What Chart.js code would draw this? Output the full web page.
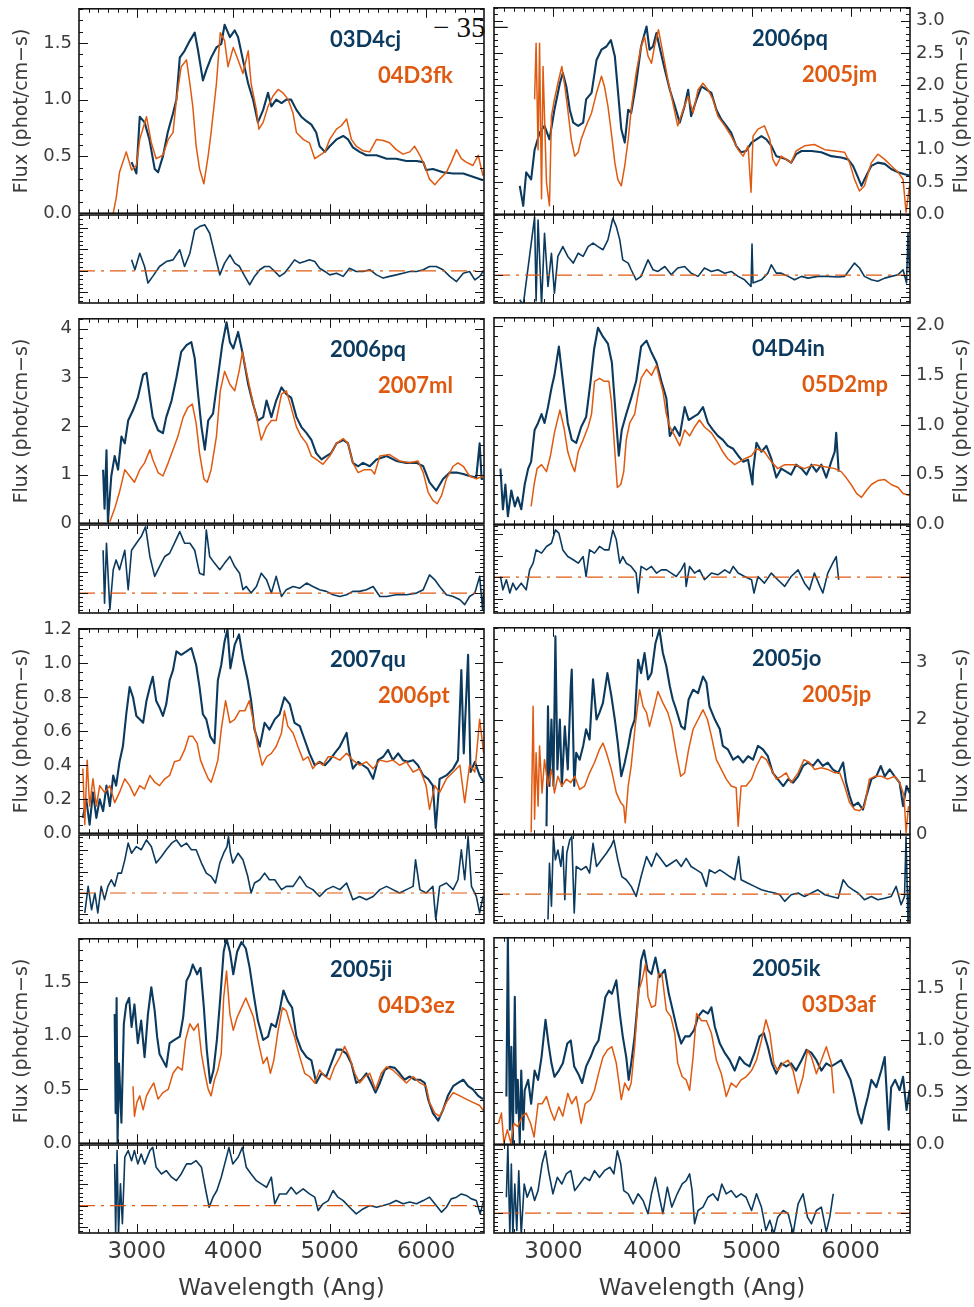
<!DOCTYPE html>
<html>
<head>
<meta charset="utf-8">
<title>Spectral comparisons</title>
<script src="https://cdn.jsdelivr.net/npm/chart.js@4/dist/chart.umd.min.js"></script>
<style>
  body { margin: 0; background: #fff; width: 974px; height: 1307px; position: relative; overflow: hidden; }
  canvas { position: absolute; }
  #page { position: absolute; left: 433px; top: 13px; font: 29px "Liberation Serif", serif; line-height: 29px; white-space: pre; color: #111; }
</style>
</head>
<body>
<div id="page">− 35 −</div>
<script>
// ---- spectra, [wavelength (Ang), flux] ----
// panel 1: 03D4cj vs 04D3fk
const p1Blue = [[2945,0.45],[2995,0.35],[3030,0.85],[3080,0.80],[3130,0.65],[3185,0.39],[3220,0.36],[3270,0.50],[3320,0.71],[3375,0.88],[3410,1.00],[3445,1.37],[3495,1.43],[3550,1.52],[3600,1.59],[3635,1.43],[3685,1.17],[3720,1.26],[3770,1.37],[3825,1.46],[3875,1.49],[3910,1.66],[3965,1.55],[4015,1.61],[4050,1.55],[4100,1.35],[4155,1.14],[4205,1.00],[4255,0.80],[4310,0.91],[4360,1.06],[4395,0.94],[4445,1.00],[4500,0.97],[4550,1.00],[4600,1.00],[4655,0.91],[4705,0.85],[4760,0.81],[4810,0.78],[4860,0.71],[4895,0.59],[4950,0.54],[5000,0.59],[5070,0.65],[5140,0.68],[5190,0.65],[5240,0.58],[5310,0.54],[5380,0.51],[5485,0.51],[5590,0.48],[5690,0.48],[5795,0.46],[5900,0.46],[5970,0.45],[6000,0.38],[6070,0.39],[6175,0.36],[6280,0.35],[6385,0.35],[6485,0.32],[6590,0.29]];
const p1Orange = [[2755,0.0],[2785,0.13],[2820,0.36],[2890,0.54],[2945,0.38],[2995,0.42],[3030,0.65],[3100,0.85],[3150,0.62],[3200,0.48],[3270,0.51],[3325,0.65],[3375,0.71],[3410,1.00],[3460,1.29],[3515,1.35],[3550,1.14],[3580,0.94],[3615,0.59],[3650,0.39],[3695,0.26],[3740,0.51],[3770,0.71],[3825,1.14],[3865,1.59],[3910,1.52],[3945,1.29],[4000,1.46],[4050,1.35],[4100,1.23],[4155,1.43],[4185,1.14],[4240,0.91],[4265,0.74],[4310,0.80],[4360,0.94],[4410,1.03],[4465,1.09],[4515,1.06],[4570,1.00],[4620,0.88],[4655,0.71],[4725,0.65],[4790,0.62],[4845,0.48],[4895,0.51],[4950,0.54],[5000,0.65],[5070,0.74],[5120,0.77],[5175,0.83],[5225,0.65],[5275,0.59],[5345,0.55],[5415,0.54],[5485,0.65],[5555,0.64],[5620,0.62],[5690,0.56],[5760,0.52],[5830,0.54],[5880,0.59],[5935,0.51],[5985,0.42],[6035,0.30],[6090,0.25],[6140,0.30],[6210,0.36],[6260,0.45],[6315,0.56],[6365,0.48],[6415,0.45],[6485,0.42],[6540,0.51],[6590,0.33]];
const p1Resid = [[2945,0.51],[2980,0.05],[3030,0.82],[3080,0.20],[3115,-0.57],[3165,-0.26],[3235,0.20],[3305,0.43],[3375,0.51],[3445,0.98],[3495,0.20],[3550,0.82],[3600,1.90],[3650,2.06],[3705,2.14],[3755,1.75],[3805,0.82],[3860,-0.19],[3910,0.36],[3965,0.74],[4015,0.36],[4065,0.20],[4120,-0.26],[4170,-0.65],[4220,-0.26],[4275,0.05],[4325,0.20],[4375,0.20],[4430,-0.03],[4480,-0.26],[4530,-0.11],[4585,0.20],[4635,0.51],[4690,0.36],[4740,0.43],[4790,0.51],[4845,0.43],[4895,0.12],[4950,-0.03],[5000,-0.19],[5070,-0.11],[5140,-0.26],[5205,0.12],[5275,-0.03],[5345,-0.03],[5415,0.05],[5485,-0.19],[5555,-0.34],[5620,-0.26],[5690,-0.19],[5760,-0.11],[5830,-0.03],[5900,-0.03],[5970,0.05],[6035,0.20],[6105,0.20],[6175,0.05],[6245,-0.26],[6315,-0.50],[6385,-0.11],[6450,-0.03],[6505,-0.42],[6555,-0.26],[6590,-0.03]];

// panel 2: 2006pq vs 2005jm
const p2Blue = [[2660,0.44],[2695,0.13],[2725,0.65],[2775,0.54],[2810,1.00],[2860,1.26],[2910,1.37],[2960,1.16],[3010,1.62],[3065,2.03],[3095,2.19],[3130,1.98],[3165,1.62],[3200,1.42],[3250,1.37],[3300,1.42],[3330,1.78],[3385,1.88],[3435,2.39],[3485,2.55],[3535,2.60],[3580,2.70],[3620,2.45],[3650,1.93],[3685,1.32],[3720,1.11],[3755,1.62],[3785,1.57],[3835,2.03],[3885,2.60],[3940,2.91],[3970,2.55],[4005,2.60],[4040,2.81],[4070,2.60],[4125,2.24],[4175,1.93],[4225,1.68],[4275,1.42],[4325,1.68],[4360,1.93],[4390,1.52],[4445,1.78],[4495,1.98],[4545,1.93],[4595,1.88],[4645,1.62],[4695,1.47],[4745,1.37],[4795,1.26],[4845,1.06],[4895,0.96],[4945,0.98],[5000,1.11],[5050,1.16],[5100,1.21],[5150,1.16],[5200,1.06],[5250,0.90],[5300,0.88],[5350,0.85],[5400,0.80],[5450,0.93],[5505,0.98],[5605,0.98],[5705,0.96],[5805,0.90],[5905,0.88],[5975,0.85],[6025,0.75],[6075,0.57],[6110,0.44],[6140,0.54],[6210,0.75],[6275,0.80],[6345,0.78],[6410,0.70],[6480,0.65],[6545,0.62],[6595,0.60]];
const p2Orange = [[2810,1.78],[2825,2.65],[2845,1.00],[2860,2.65],[2880,0.24],[2895,2.29],[2930,0.49],[2960,0.13],[2980,1.52],[3010,1.78],[3045,2.03],[3085,2.29],[3115,1.98],[3145,1.62],[3180,1.16],[3215,0.90],[3250,0.96],[3280,1.16],[3330,1.37],[3385,1.57],[3435,1.88],[3485,2.14],[3515,1.98],[3550,1.68],[3585,1.26],[3620,0.80],[3650,0.54],[3685,0.44],[3720,0.75],[3755,1.16],[3785,1.62],[3835,2.19],[3885,2.60],[3920,2.75],[3955,2.45],[3990,2.34],[4020,2.60],[4060,2.86],[4105,2.50],[4155,2.09],[4205,1.73],[4255,1.37],[4310,1.62],[4360,1.83],[4410,1.57],[4460,1.93],[4510,2.03],[4560,1.93],[4610,1.78],[4660,1.52],[4730,1.37],[4795,1.21],[4865,1.00],[4915,0.90],[4965,1.06],[4995,0.34],[5015,1.21],[5065,1.32],[5130,1.37],[5185,1.16],[5215,0.85],[5250,0.75],[5300,0.90],[5350,0.85],[5400,0.80],[5450,0.98],[5535,1.06],[5635,1.08],[5740,1.00],[5840,0.98],[5940,0.96],[5990,0.80],[6040,0.54],[6090,0.36],[6140,0.44],[6210,0.80],[6275,0.93],[6345,0.85],[6410,0.75],[6480,0.65],[6530,0.54],[6560,0.03],[6595,0.44]];
const p2Resid = [[2660,-1.15],[2695,-1.40],[2810,2.70],[2825,-1.20],[2845,2.57],[2880,-1.40],[2910,1.95],[2945,-0.53],[2980,1.02],[3010,-0.84],[3045,0.87],[3095,1.33],[3145,0.87],[3200,0.56],[3250,1.02],[3300,0.87],[3350,1.33],[3400,1.49],[3450,1.33],[3500,1.18],[3550,1.64],[3600,2.65],[3635,2.26],[3670,1.64],[3700,0.71],[3755,0.56],[3785,0.25],[3835,-0.22],[3885,-0.06],[3955,0.71],[4005,0.25],[4055,0.17],[4125,0.40],[4190,0.02],[4255,0.33],[4325,0.40],[4390,0.09],[4460,-0.06],[4525,0.33],[4595,0.17],[4660,0.25],[4730,0.09],[4795,0.17],[4865,-0.06],[4930,-0.22],[4995,-0.53],[5005,1.45],[5015,-0.37],[5100,-0.22],[5165,0.09],[5200,0.48],[5250,0.09],[5300,0.09],[5370,-0.06],[5435,-0.22],[5505,-0.06],[5570,-0.14],[5670,-0.06],[5770,-0.06],[5875,-0.09],[5940,-0.06],[5990,0.25],[6040,0.56],[6090,0.33],[6140,-0.06],[6210,-0.22],[6275,-0.29],[6345,-0.14],[6410,-0.06],[6480,0.02],[6530,0.25],[6565,-0.37],[6580,1.95],[6595,0.09]];

// panel 3: 2006pq vs 2007ml
const p3Blue = [[2650,1.10],[2665,0.30],[2685,1.50],[2700,0.03],[2735,0.97],[2770,1.38],[2805,1.10],[2840,1.78],[2875,1.64],[2910,2.11],[2960,2.32],[3010,2.58],[3065,3.05],[3100,3.09],[3135,2.58],[3165,2.18],[3220,1.91],[3270,1.85],[3305,2.18],[3360,2.52],[3410,2.99],[3460,3.52],[3515,3.66],[3565,3.72],[3600,3.39],[3635,2.65],[3670,1.98],[3705,1.51],[3740,2.11],[3790,2.25],[3840,2.99],[3885,3.66],[3930,4.13],[3965,3.72],[4000,3.59],[4050,3.93],[4100,3.46],[4155,2.85],[4205,2.45],[4255,2.11],[4310,2.18],[4345,2.52],[4395,2.18],[4445,2.52],[4500,2.79],[4550,2.65],[4600,2.58],[4655,2.18],[4705,1.98],[4760,1.85],[4810,1.71],[4860,1.44],[4915,1.31],[4965,1.38],[5015,1.44],[5070,1.64],[5140,1.71],[5190,1.64],[5240,1.24],[5295,1.17],[5345,1.24],[5415,1.17],[5485,1.31],[5590,1.38],[5690,1.28],[5795,1.24],[5900,1.24],[5970,1.17],[6035,0.84],[6105,0.67],[6175,0.91],[6245,1.04],[6315,1.04],[6385,1.01],[6450,0.97],[6520,0.94],[6555,1.64],[6575,0.91],[6590,0.91]];
const p3Orange = [[2720,0.03],[2770,0.30],[2820,0.64],[2875,1.10],[2925,0.97],[2975,0.84],[3030,1.10],[3080,1.24],[3135,1.51],[3165,1.31],[3220,1.04],[3270,0.97],[3325,1.24],[3375,1.51],[3425,1.78],[3480,2.18],[3530,2.38],[3575,2.45],[3615,2.05],[3650,1.44],[3695,0.91],[3730,0.84],[3770,1.10],[3825,1.78],[3865,2.72],[3910,3.12],[3965,2.85],[4015,2.72],[4060,3.12],[4095,3.52],[4135,3.12],[4185,2.65],[4240,2.18],[4290,1.71],[4345,1.98],[4395,2.11],[4445,2.11],[4500,2.65],[4550,2.72],[4600,2.38],[4655,1.98],[4705,1.78],[4760,1.64],[4810,1.38],[4860,1.31],[4930,1.21],[5000,1.38],[5070,1.64],[5140,1.74],[5190,1.64],[5240,1.24],[5295,1.04],[5360,1.10],[5430,1.10],[5465,1.01],[5520,1.38],[5620,1.41],[5725,1.28],[5830,1.24],[5915,1.28],[5970,1.04],[6020,0.64],[6070,0.47],[6115,0.40],[6160,0.57],[6210,0.91],[6280,1.17],[6330,1.24],[6385,1.17],[6450,0.97],[6520,0.91],[6590,0.97]];
const p3Resid = [[2650,2.00],[2665,-0.47],[2685,2.33],[2720,-0.78],[2755,1.09],[2785,1.55],[2820,1.09],[2875,2.00],[2910,0.16],[2945,2.00],[2995,2.33],[3045,2.64],[3090,3.10],[3135,1.71],[3185,0.78],[3235,1.24],[3290,1.71],[3340,1.86],[3390,2.33],[3445,2.87],[3495,2.33],[3550,2.33],[3600,2.00],[3650,0.93],[3695,0.85],[3720,2.95],[3755,1.71],[3805,1.40],[3860,1.09],[3910,1.40],[3965,1.71],[4015,1.24],[4065,0.93],[4100,0.16],[4135,0.31],[4185,0.00],[4240,0.31],[4290,0.93],[4345,0.62],[4395,0.00],[4445,0.78],[4500,-0.16],[4550,0.16],[4620,0.31],[4690,0.23],[4760,0.47],[4825,0.31],[4895,0.16],[4965,0.08],[5035,-0.08],[5105,-0.16],[5175,-0.08],[5240,0.08],[5310,0.08],[5380,0.16],[5450,0.31],[5520,-0.16],[5590,-0.16],[5690,-0.08],[5795,-0.08],[5900,0.00],[5970,0.16],[6035,0.85],[6090,0.62],[6140,0.31],[6210,-0.08],[6280,-0.16],[6350,-0.31],[6400,-0.54],[6450,-0.16],[6505,0.00],[6555,0.78],[6585,-0.78],[6597,0.16]];

// panel 4: 04D4in vs 05D2mp
const p4Blue = [[2465,0.56],[2490,0.15],[2515,0.40],[2540,0.08],[2575,0.34],[2610,0.18],[2640,0.27],[2675,0.15],[2710,0.40],[2745,0.56],[2775,0.63],[2810,0.95],[2845,1.02],[2880,1.11],[2910,1.02],[2945,1.18],[2980,1.37],[3010,1.50],[3055,1.79],[3085,1.53],[3115,1.27],[3145,1.02],[3185,0.85],[3230,0.82],[3280,0.98],[3330,1.08],[3375,1.44],[3410,1.76],[3450,1.98],[3500,1.89],[3550,1.82],[3590,1.63],[3625,1.15],[3660,0.69],[3690,0.95],[3735,1.11],[3785,1.27],[3835,1.44],[3885,1.79],[3940,1.85],[3990,1.73],[4040,1.63],[4090,1.44],[4140,1.27],[4175,0.89],[4225,0.98],[4275,0.89],[4325,1.18],[4365,1.05],[4410,1.08],[4460,1.11],[4510,1.18],[4560,1.02],[4610,0.95],[4660,0.89],[4710,0.85],[4760,0.79],[4815,0.76],[4865,0.69],[4915,0.63],[4965,0.65],[5010,0.40],[5015,0.53],[5050,0.82],[5100,0.73],[5150,0.79],[5200,0.66],[5250,0.47],[5300,0.56],[5350,0.53],[5400,0.50],[5450,0.60],[5505,0.56],[5555,0.50],[5605,0.60],[5655,0.53],[5705,0.60],[5755,0.47],[5805,0.63],[5840,0.73],[5855,0.92],[5880,0.53]];
const p4Orange = [[2775,0.18],[2805,0.40],[2835,0.56],[2880,0.60],[2930,0.53],[2970,0.69],[3010,0.92],[3065,1.15],[3105,0.98],[3145,0.73],[3185,0.60],[3215,0.53],[3250,0.73],[3300,0.85],[3350,0.98],[3385,1.11],[3415,1.44],[3465,1.47],[3515,1.44],[3560,1.44],[3585,1.24],[3620,0.73],[3645,0.37],[3680,0.40],[3710,0.53],[3735,0.85],[3770,1.02],[3820,1.11],[3855,1.31],[3885,1.47],[3940,1.56],[3990,1.50],[4040,1.60],[4070,1.47],[4105,1.34],[4140,1.11],[4175,0.98],[4225,0.89],[4275,0.79],[4325,0.95],[4375,0.89],[4425,0.98],[4475,1.05],[4525,0.98],[4595,0.92],[4660,0.82],[4710,0.73],[4760,0.66],[4830,0.60],[4880,0.63],[4930,0.66],[5000,0.69],[5050,0.76],[5130,0.73],[5200,0.63],[5265,0.56],[5335,0.60],[5435,0.60],[5535,0.56],[5635,0.60],[5740,0.58],[5840,0.56],[5905,0.53],[5955,0.47],[6005,0.40],[6060,0.31],[6110,0.27],[6160,0.34],[6210,0.40],[6275,0.44],[6345,0.45],[6410,0.40],[6480,0.37],[6530,0.31],[6595,0.29]];
const p4Resid = [[2465,0.03],[2490,-0.59],[2525,-0.12],[2560,-0.74],[2590,-0.28],[2625,-0.59],[2675,-0.28],[2725,-0.59],[2760,0.34],[2795,0.65],[2825,1.27],[2880,1.12],[2930,1.43],[2980,1.58],[3020,2.20],[3055,2.05],[3095,1.27],[3145,0.96],[3200,0.81],[3250,0.65],[3300,0.96],[3330,0.03],[3365,1.27],[3415,1.12],[3465,1.43],[3515,1.27],[3560,1.27],[3600,2.20],[3635,1.74],[3670,0.65],[3700,0.96],[3735,0.65],[3785,0.50],[3835,0.19],[3855,-0.74],[3885,0.50],[3940,0.34],[3990,0.50],[4040,0.19],[4090,0.34],[4140,0.34],[4190,0.19],[4240,0.03],[4290,0.34],[4325,0.65],[4340,-0.43],[4375,0.50],[4425,0.19],[4475,0.34],[4525,-0.12],[4595,0.19],[4660,0.11],[4730,0.34],[4780,0.19],[4815,0.50],[4865,0.19],[4930,0.03],[5000,-0.12],[5025,-0.74],[5065,0.03],[5130,-0.28],[5200,0.19],[5265,-0.12],[5335,-0.43],[5400,0.03],[5470,0.34],[5535,-0.28],[5585,-0.59],[5635,0.19],[5690,-0.43],[5720,-0.74],[5770,0.19],[5820,0.65],[5855,0.96],[5880,-0.12]];

// panel 5: 2007qu vs 2006pt
const p5Blue = [[2440,0.09],[2475,0.20],[2510,0.05],[2545,0.24],[2580,0.09],[2615,0.20],[2650,0.13],[2685,0.28],[2720,0.16],[2755,0.34],[2785,0.28],[2820,0.42],[2855,0.51],[2890,0.70],[2925,0.86],[2960,0.80],[2995,0.69],[3030,0.67],[3065,0.65],[3100,0.78],[3135,0.86],[3165,0.92],[3200,0.78],[3235,0.74],[3270,0.69],[3305,0.76],[3340,0.90],[3375,0.96],[3410,1.07],[3460,1.05],[3515,1.07],[3565,1.09],[3615,0.99],[3650,0.86],[3685,0.70],[3720,0.67],[3760,0.57],[3805,0.53],[3840,0.90],[3875,0.99],[3910,1.13],[3940,1.20],[3970,0.97],[4015,1.11],[4060,1.17],[4100,1.03],[4150,0.90],[4185,0.78],[4220,0.61],[4275,0.51],[4325,0.65],[4375,0.61],[4430,0.67],[4480,0.70],[4530,0.80],[4585,0.76],[4635,0.65],[4690,0.63],[4740,0.55],[4790,0.47],[4845,0.40],[4895,0.42],[4950,0.40],[5000,0.43],[5050,0.47],[5105,0.51],[5175,0.59],[5205,0.47],[5240,0.38],[5295,0.42],[5345,0.40],[5395,0.38],[5450,0.32],[5500,0.43],[5555,0.45],[5605,0.49],[5655,0.43],[5710,0.47],[5760,0.43],[5810,0.42],[5865,0.43],[5915,0.40],[5970,0.34],[6020,0.32],[6070,0.28],[6100,0.03],[6140,0.32],[6210,0.34],[6280,0.38],[6330,0.43],[6365,0.96],[6390,0.47],[6435,1.05],[6460,0.36],[6505,0.42],[6555,0.34],[6597,0.30]];
const p5Orange = [[2440,0.38],[2460,0.05],[2485,0.43],[2510,0.16],[2545,0.32],[2580,0.16],[2615,0.28],[2665,0.24],[2720,0.28],[2770,0.18],[2820,0.24],[2875,0.32],[2925,0.28],[2975,0.22],[3030,0.28],[3080,0.26],[3135,0.34],[3185,0.30],[3235,0.28],[3290,0.32],[3340,0.34],[3390,0.42],[3445,0.43],[3495,0.49],[3540,0.57],[3580,0.57],[3625,0.53],[3660,0.43],[3695,0.38],[3740,0.32],[3770,0.30],[3805,0.36],[3840,0.43],[3875,0.61],[3920,0.78],[3965,0.65],[4015,0.67],[4065,0.72],[4120,0.72],[4165,0.78],[4205,0.67],[4255,0.51],[4300,0.40],[4345,0.45],[4395,0.47],[4445,0.51],[4500,0.59],[4530,0.72],[4565,0.63],[4620,0.59],[4670,0.51],[4725,0.43],[4775,0.45],[4825,0.38],[4880,0.42],[4930,0.40],[4985,0.45],[5035,0.45],[5105,0.43],[5175,0.47],[5240,0.43],[5310,0.40],[5380,0.42],[5450,0.38],[5520,0.43],[5590,0.42],[5655,0.43],[5725,0.40],[5795,0.42],[5865,0.36],[5935,0.38],[6000,0.28],[6035,0.14],[6090,0.28],[6140,0.24],[6210,0.32],[6280,0.36],[6350,0.40],[6400,0.18],[6450,0.40],[6505,0.36],[6555,0.67],[6597,0.47]];
const p5Resid = [[2460,-0.93],[2495,0.31],[2530,-0.78],[2565,0.00],[2595,-0.93],[2630,0.31],[2665,-0.31],[2700,0.31],[2735,0.62],[2770,0.31],[2805,0.93],[2840,0.93],[2875,1.55],[2910,2.33],[2945,1.86],[2995,2.17],[3045,2.02],[3100,2.48],[3150,2.17],[3200,1.40],[3255,1.71],[3305,2.02],[3360,2.33],[3410,2.48],[3460,2.17],[3515,2.33],[3565,2.02],[3615,2.02],[3670,1.40],[3720,0.93],[3770,0.78],[3815,0.47],[3860,1.40],[3900,1.86],[3935,2.17],[3950,2.64],[3970,1.90],[3995,1.40],[4050,1.86],[4100,1.55],[4150,0.78],[4185,0.00],[4220,0.47],[4275,0.62],[4325,0.93],[4375,0.62],[4430,0.62],[4500,0.16],[4550,0.31],[4620,0.31],[4690,0.78],[4760,0.31],[4825,0.16],[4895,-0.16],[4965,0.16],[5035,0.31],[5105,0.16],[5175,0.47],[5240,-0.31],[5310,-0.16],[5380,-0.31],[5450,-0.16],[5520,0.16],[5590,0.31],[5655,0.16],[5725,0.00],[5795,0.16],[5865,0.31],[5890,1.55],[5935,0.16],[6000,0.00],[6070,0.31],[6100,-1.24],[6140,0.31],[6210,0.47],[6280,0.16],[6330,0.62],[6365,2.02],[6400,0.62],[6435,2.64],[6470,0.31],[6520,-0.16],[6555,-0.93],[6590,-0.16]];

// panel 6: 2005jo vs 2005jp
const p6Blue = [[2930,0.14],[2945,2.23],[2960,0.84],[2980,2.00],[3000,0.84],[3020,3.45],[3040,1.13],[3065,2.00],[3085,0.84],[3115,1.88],[3145,1.13],[3175,2.58],[3185,2.87],[3210,0.84],[3230,1.42],[3265,1.30],[3300,1.54],[3330,1.83],[3365,1.65],[3400,2.70],[3435,2.00],[3465,2.12],[3500,2.29],[3545,2.81],[3585,2.41],[3620,2.00],[3650,1.59],[3685,1.01],[3720,1.25],[3755,1.54],[3785,1.83],[3820,2.00],[3855,3.04],[3885,2.81],[3920,3.16],[3955,2.70],[3990,2.81],[4030,3.33],[4070,3.57],[4105,3.16],[4140,2.93],[4175,2.58],[4205,2.35],[4240,2.17],[4290,1.88],[4325,1.83],[4365,2.35],[4410,2.52],[4460,2.46],[4510,2.75],[4545,2.64],[4575,2.23],[4630,2.00],[4680,1.83],[4710,1.54],[4760,1.48],[4815,1.30],[4865,1.36],[4915,1.25],[4965,1.36],[5015,1.30],[5065,1.54],[5115,1.48],[5165,1.36],[5215,1.07],[5265,0.96],[5320,0.84],[5370,0.96],[5420,0.90],[5470,1.01],[5520,1.19],[5570,1.25],[5620,1.19],[5670,1.30],[5720,1.19],[5770,1.25],[5820,1.13],[5875,1.07],[5925,1.25],[5955,0.90],[5990,0.67],[6025,0.49],[6075,0.55],[6125,0.43],[6160,0.67],[6210,0.96],[6260,1.01],[6305,1.19],[6345,1.01],[6395,1.13],[6445,1.01],[6495,0.90],[6530,0.49],[6565,0.84],[6595,0.72]];
const p6Orange = [[2775,0.03],[2795,2.23],[2810,0.26],[2825,1.42],[2845,0.49],[2860,1.54],[2885,0.72],[2910,1.30],[2945,0.84],[2980,1.13],[3010,0.72],[3045,1.01],[3085,0.84],[3130,0.96],[3175,0.90],[3215,1.01],[3265,0.78],[3315,0.84],[3365,1.07],[3415,1.25],[3465,1.48],[3500,1.59],[3535,1.42],[3585,1.13],[3635,0.72],[3680,0.55],[3710,0.49],[3725,0.20],[3755,0.84],[3785,1.19],[3825,1.88],[3870,2.52],[3905,2.23],[3940,2.12],[3970,1.88],[4005,2.12],[4055,2.49],[4105,2.29],[4155,2.12],[4195,1.88],[4240,1.42],[4285,1.01],[4325,1.07],[4365,1.48],[4410,1.83],[4460,2.00],[4510,2.17],[4555,2.00],[4595,1.71],[4645,1.30],[4695,1.13],[4745,0.96],[4795,0.84],[4845,0.81],[4865,0.14],[4895,0.84],[4945,0.84],[5000,0.96],[5050,1.19],[5100,1.36],[5150,1.30],[5200,1.13],[5250,0.96],[5300,1.01],[5350,1.07],[5400,0.90],[5470,1.07],[5530,1.30],[5585,1.25],[5635,1.13],[5705,1.16],[5770,1.13],[5840,1.07],[5890,1.07],[5940,0.84],[5990,0.55],[6040,0.43],[6090,0.41],[6140,0.49],[6190,0.96],[6245,1.01],[6310,1.01],[6375,0.96],[6445,1.01],[6495,0.90],[6540,0.67],[6560,0.03],[6585,0.49]];
const p6Resid = [[2945,-1.19],[2960,1.44],[2980,-0.57],[3000,2.68],[3020,1.60],[3045,2.06],[3075,1.29],[3095,2.22],[3115,-0.26],[3135,1.91],[3165,2.53],[3185,2.68],[3210,-0.88],[3230,1.29],[3280,1.13],[3330,1.29],[3365,0.98],[3400,2.37],[3435,1.29],[3485,1.60],[3535,1.91],[3580,2.22],[3610,2.53],[3650,1.60],[3690,0.82],[3735,0.67],[3785,0.36],[3835,-0.11],[3885,0.82],[3940,1.75],[3990,1.29],[4040,1.91],[4090,1.60],[4140,1.29],[4190,1.44],[4240,1.60],[4290,1.29],[4340,1.67],[4390,1.29],[4445,1.13],[4495,0.98],[4545,0.36],[4575,1.13],[4630,0.98],[4680,1.13],[4730,0.98],[4780,0.82],[4830,0.67],[4870,1.75],[4895,0.67],[4965,0.51],[5030,0.36],[5100,0.20],[5165,0.12],[5235,0.05],[5285,-0.03],[5335,-0.34],[5400,-0.03],[5470,0.05],[5535,-0.11],[5605,0.05],[5670,0.20],[5740,-0.03],[5805,-0.11],[5875,-0.19],[5925,0.67],[5975,0.36],[6025,0.20],[6075,0.05],[6140,-0.26],[6210,-0.11],[6275,-0.26],[6345,-0.19],[6410,-0.11],[6460,0.36],[6510,-0.50],[6545,-0.11],[6560,2.68],[6580,-1.35],[6595,0.36]];

// panel 7: 2005ji vs 04D3ez
const p7Blue = [[2770,1.20],[2780,0.28],[2790,1.35],[2800,0.01],[2815,0.74],[2840,0.19],[2865,1.11],[2890,1.29],[2920,1.35],[2945,1.08],[2975,1.29],[3010,0.93],[3045,1.14],[3080,0.80],[3115,1.20],[3150,1.45],[3185,1.23],[3210,0.99],[3235,0.83],[3270,0.77],[3305,0.71],[3340,0.93],[3390,0.96],[3445,0.99],[3480,1.17],[3515,1.51],[3550,1.57],[3580,1.66],[3625,1.57],[3660,1.63],[3695,1.26],[3725,0.87],[3760,0.56],[3795,0.68],[3830,0.96],[3865,1.35],[3900,1.78],[3930,1.90],[3965,1.78],[4000,1.57],[4040,1.78],[4085,1.87],[4130,1.81],[4170,1.63],[4210,1.39],[4255,1.14],[4310,0.96],[4360,0.99],[4395,1.11],[4440,1.08],[4480,1.23],[4520,1.42],[4565,1.32],[4610,1.26],[4655,0.99],[4705,0.87],[4760,0.80],[4810,0.77],[4860,0.56],[4915,0.65],[4965,0.62],[5015,0.74],[5070,0.87],[5120,0.87],[5175,0.83],[5225,0.74],[5275,0.56],[5330,0.59],[5380,0.65],[5430,0.56],[5475,0.47],[5520,0.56],[5570,0.68],[5620,0.71],[5675,0.70],[5725,0.65],[5775,0.59],[5830,0.62],[5880,0.59],[5935,0.59],[5985,0.56],[6020,0.41],[6070,0.28],[6125,0.21],[6175,0.31],[6225,0.44],[6280,0.53],[6330,0.56],[6385,0.59],[6435,0.53],[6485,0.50],[6540,0.44],[6590,0.41]];
const p7Orange = [[2960,0.53],[2975,0.25],[3000,0.38],[3030,0.44],[3065,0.31],[3100,0.44],[3135,0.50],[3175,0.56],[3220,0.41],[3270,0.47],[3325,0.50],[3375,0.65],[3425,0.71],[3470,0.68],[3505,0.96],[3550,1.11],[3590,1.05],[3635,1.11],[3670,0.83],[3705,0.65],[3740,0.50],[3770,0.44],[3805,0.59],[3840,0.68],[3875,0.83],[3900,1.35],[3930,1.60],[3965,1.20],[4000,1.05],[4040,1.17],[4085,1.26],[4130,1.35],[4170,1.26],[4210,1.17],[4255,0.96],[4310,0.74],[4350,0.80],[4385,0.65],[4420,0.77],[4465,1.05],[4510,1.26],[4550,1.23],[4590,1.11],[4635,0.99],[4690,0.80],[4740,0.65],[4790,0.62],[4845,0.56],[4895,0.68],[4950,0.62],[5000,0.59],[5050,0.71],[5105,0.80],[5155,0.90],[5205,0.80],[5260,0.65],[5310,0.56],[5365,0.62],[5415,0.65],[5475,0.50],[5535,0.65],[5590,0.71],[5655,0.68],[5725,0.62],[5795,0.56],[5865,0.62],[5935,0.56],[6000,0.53],[6035,0.38],[6090,0.28],[6140,0.25],[6210,0.38],[6280,0.47],[6350,0.44],[6415,0.41],[6485,0.38],[6555,0.35],[6597,0.30]];
const p7Resid = [[2770,1.94],[2780,-1.32],[2795,2.56],[2810,-1.32],[2830,1.01],[2850,-0.85],[2875,2.25],[2910,2.56],[2945,2.09],[2975,2.56],[3010,1.94],[3045,2.40],[3080,1.94],[3135,2.56],[3165,2.71],[3200,1.78],[3255,1.47],[3305,1.63],[3360,1.32],[3410,1.16],[3460,1.47],[3515,1.94],[3565,1.94],[3615,2.09],[3670,1.78],[3715,0.70],[3750,-0.08],[3790,0.39],[3830,0.70],[3875,1.32],[3920,2.09],[3955,2.71],[3995,1.94],[4050,2.25],[4095,2.71],[4135,1.78],[4185,1.47],[4240,1.16],[4290,1.01],[4345,0.85],[4395,1.32],[4430,0.08],[4480,0.54],[4550,0.54],[4600,0.85],[4655,0.54],[4725,0.78],[4790,0.54],[4845,0.39],[4880,-0.23],[4930,0.08],[4985,0.23],[5035,0.70],[5085,0.39],[5140,0.23],[5205,-0.08],[5275,-0.39],[5345,-0.16],[5415,0.00],[5485,-0.08],[5555,0.00],[5620,0.08],[5690,0.23],[5760,0.08],[5830,0.16],[5900,0.08],[5970,0.23],[6035,0.39],[6105,0.00],[6160,-0.31],[6210,-0.08],[6260,0.31],[6315,0.39],[6365,0.54],[6415,0.47],[6470,0.31],[6520,0.23],[6560,-0.39],[6597,0.23]];

// panel 8: 2005ik vs 03D3af
const p8Blue = [[2525,0.46],[2540,2.00],[2560,0.14],[2575,0.94],[2590,0.01],[2610,1.42],[2625,0.30],[2640,0.62],[2660,0.01],[2675,0.71],[2695,0.14],[2710,0.52],[2745,0.62],[2775,0.39],[2810,0.71],[2845,0.62],[2880,0.84],[2920,1.20],[2950,0.97],[2980,0.78],[3010,0.65],[3055,0.71],[3095,0.78],[3140,0.97],[3175,1.00],[3210,0.75],[3250,0.68],[3290,0.59],[3330,0.75],[3375,0.84],[3415,0.94],[3455,1.00],[3490,1.20],[3525,1.42],[3560,1.48],[3590,1.45],[3635,1.58],[3670,1.26],[3700,1.04],[3735,0.84],[3760,0.62],[3785,0.78],[3820,1.04],[3855,1.42],[3885,1.77],[3915,1.87],[3950,1.68],[3990,1.64],[4030,1.80],[4070,1.61],[4125,1.68],[4165,1.45],[4205,1.29],[4250,1.10],[4290,0.97],[4330,1.04],[4375,1.04],[4420,1.10],[4460,1.23],[4510,1.29],[4560,1.26],[4595,1.32],[4630,1.13],[4680,0.97],[4730,0.88],[4780,0.81],[4830,0.71],[4880,0.84],[4930,0.78],[4980,0.75],[5030,0.88],[5080,1.04],[5125,1.07],[5165,0.94],[5205,0.78],[5250,0.68],[5300,0.78],[5350,0.75],[5400,0.78],[5450,0.71],[5505,0.81],[5555,0.91],[5605,0.88],[5655,0.81],[5705,0.71],[5755,0.78],[5805,0.75],[5855,0.78],[5905,0.81],[5955,0.71],[6000,0.62],[6040,0.46],[6075,0.30],[6110,0.20],[6140,0.33],[6175,0.46],[6210,0.62],[6260,0.55],[6310,0.71],[6345,0.84],[6385,0.14],[6410,0.55],[6450,0.62],[6495,0.52],[6530,0.65],[6565,0.33],[6595,0.52]];
const p8Orange = [[2445,0.20],[2475,0.30],[2500,0.01],[2535,0.14],[2570,0.01],[2600,0.20],[2640,0.17],[2685,0.27],[2725,0.30],[2770,0.20],[2805,0.07],[2845,0.39],[2885,0.39],[2930,0.46],[2970,0.33],[3010,0.23],[3055,0.36],[3095,0.27],[3145,0.49],[3185,0.39],[3230,0.46],[3280,0.20],[3320,0.39],[3375,0.43],[3415,0.52],[3455,0.68],[3500,0.84],[3545,0.91],[3590,0.94],[3635,0.78],[3685,0.43],[3720,0.59],[3760,0.52],[3785,0.59],[3820,0.94],[3860,1.48],[3895,1.58],[3930,1.74],[3955,1.42],[3990,1.32],[4030,1.34],[4060,1.64],[4095,1.64],[4140,1.29],[4185,1.23],[4225,1.07],[4255,0.78],[4300,0.65],[4340,0.62],[4375,0.52],[4410,0.84],[4445,1.26],[4495,1.19],[4545,1.19],[4595,1.07],[4645,0.81],[4695,0.68],[4745,0.46],[4795,0.59],[4845,0.55],[4895,0.62],[4945,0.65],[5000,0.71],[5050,0.81],[5100,1.00],[5145,1.20],[5185,1.07],[5225,0.78],[5265,0.71],[5320,0.78],[5370,0.81],[5420,0.71],[5470,0.49],[5520,0.65],[5565,0.91],[5605,0.84],[5655,0.68],[5705,0.81],[5755,0.94],[5805,0.78],[5830,0.49]];
const p8Resid = [[2525,0.74],[2540,3.15],[2560,-1.00],[2575,2.29],[2590,-1.00],[2610,1.36],[2630,-0.81],[2650,1.98],[2675,-1.00],[2705,1.36],[2735,0.74],[2775,1.21],[2810,0.59],[2845,1.05],[2885,2.29],[2920,2.91],[2950,1.98],[2995,0.90],[3040,1.67],[3085,1.36],[3130,1.83],[3175,1.98],[3215,1.05],[3265,1.36],[3315,1.67],[3365,1.52],[3415,1.98],[3465,1.67],[3515,1.98],[3570,2.14],[3610,1.83],[3645,2.91],[3680,2.29],[3710,1.05],[3755,0.90],[3805,0.43],[3855,0.90],[3905,0.59],[3955,-0.03],[3990,0.90],[4030,1.67],[4070,0.74],[4105,-0.03],[4150,1.21],[4195,0.28],[4250,0.90],[4300,1.36],[4340,1.52],[4375,1.83],[4400,1.05],[4425,-0.50],[4460,0.12],[4510,0.28],[4560,0.74],[4610,0.90],[4660,0.59],[4700,1.36],[4745,0.90],[4795,1.05],[4845,0.74],[4895,0.90],[4945,0.74],[5000,0.12],[5050,0.90],[5100,0.28],[5145,-0.81],[5185,-0.34],[5225,-0.96],[5265,-0.19],[5320,0.12],[5370,-0.03],[5420,-0.96],[5470,0.43],[5520,0.90],[5565,-0.19],[5605,-0.50],[5655,0.12],[5705,0.28],[5755,-0.88],[5790,-0.19],[5825,0.90]];

const blueNames   = ['03D4cj', '2006pq', '2006pq', '04D4in', '2007qu', '2005jo', '2005ji', '2005ik'];
const orangeNames = ['04D3fk', '2005jm', '2007ml', '05D2mp', '2006pt', '2005jp', '04D3ez', '03D3af'];
const blueSpectra   = [p1Blue, p2Blue, p3Blue, p4Blue, p5Blue, p6Blue, p7Blue, p8Blue];
const orangeSpectra = [p1Orange, p2Orange, p3Orange, p4Orange, p5Orange, p6Orange, p7Orange, p8Orange];
const residuals     = [p1Resid, p2Resid, p3Resid, p4Resid, p5Resid, p6Resid, p7Resid, p8Resid];

// flux axes
const fluxMax   = [1.8, 3.2, 4.2, 2.08, 1.203, 3.6, 1.9, 1.99];
const fluxStep  = [0.5, 0.5, 1, 0.5, 0.2, 1, 0.5, 0.5];
const fluxMinor = [0.1, 0.1, 0.2, 0.1, 0.05, 0.2, 0.1, 0.1];
// residual axes (arbitrary units, zero line position per panel)
const residMin = [-1.50, -1.30, -0.93, -1.67, -1.40, -1.35, -1.28, -0.93];
const residMax = [2.60, 2.80, 3.18, 2.43, 2.71, 2.76, 2.82, 3.18];
const waveMin = 2400, waveMax = 6600;
const waveTicks = [3000, 4000, 5000, 6000];

// ---- layout ----
const BLUE = '#0b3a5e', ORANGE = '#df5a10', INK = '#3c3c3c';
const COL_X = [79, 494], COL_W = [405, 416];
const ROW_Y = [7, 317, 627, 937];
const MAIN_H = 208, RES_H = 88;
const X_AXIS_H = 70;
const AXIS_FONT = 'DejaVu Sans';

const idlFrame = {
  id: 'idlFrame',
  afterDatasetsDraw(chart, args, o) {
    const { ctx, chartArea: a } = chart;
    const x = chart.scales.x, y = chart.scales.y;
    ctx.save();
    ctx.strokeStyle = '#151515';
    ctx.lineWidth = 1;
    ctx.beginPath();
    for (let w = waveMin + 100; w < waveMax; w += 100) {
      const px = Math.round(x.getPixelForValue(w)) + 0.5;
      const len = w % 1000 === 0 ? 9 : 4;
      ctx.moveTo(px, a.top); ctx.lineTo(px, a.top + len);
      ctx.moveTo(px, a.bottom); ctx.lineTo(px, a.bottom - len);
    }
    const k0 = Math.ceil(y.min / o.minor - 1e-6), k1 = Math.floor(y.max / o.minor + 1e-6);
    for (let k = k0; k <= k1; k++) {
      const v = k * o.minor;
      const r = v / o.major;
      const len = Math.abs(r - Math.round(r)) < 1e-6 ? 9 : 4;
      const py = Math.round(y.getPixelForValue(v)) + 0.5;
      ctx.moveTo(a.left, py); ctx.lineTo(a.left + len, py);
      ctx.moveTo(a.right, py); ctx.lineTo(a.right - len, py);
    }
    ctx.stroke();
    ctx.lineWidth = 1.6;
    ctx.strokeRect(a.left, a.top, a.width, a.height);

    (o.names || []).forEach(n => {
      ctx.font = 'bold 22px Lato';
      ctx.fillStyle = n.color;
      ctx.textAlign = 'left';
      ctx.textBaseline = 'alphabetic';
      ctx.fillText(n.text, a.left + n.dx, a.top + n.dy);
    });
    if (o.titleX != null) {
      ctx.translate(o.titleX, (a.top + a.bottom) / 2);
      ctx.rotate(-Math.PI / 2);
      ctx.font = '19px ' + AXIS_FONT;
      ctx.fillStyle = INK;
      ctx.textAlign = 'center';
      ctx.textBaseline = 'alphabetic';
      ctx.fillText('Flux (phot/cm\u2212s)', 0, 0);
    }
    ctx.restore();
  }
};

function addCanvas(left, top, w, h) {
  const c = document.createElement('canvas');
  c.width = w; c.height = h;
  c.style.left = left + 'px'; c.style.top = top + 'px';
  c.style.width = w + 'px'; c.style.height = h + 'px';
  document.body.appendChild(c);
  return c;
}

const toXY = pts => pts.map(p => ({ x: p[0], y: p[1] }));

function lineSet(pts, color, width, dash) {
  return {
    data: toXY(pts), borderColor: color, borderWidth: width, borderDash: dash || [],
    pointRadius: 0, tension: 0, clip: 0, borderJoinStyle: 'round', parsing: false
  };
}

for (let i = 0; i < 8; i++) {
  const col = i % 2, row = Math.floor(i / 2);
  const fx = COL_X[col], fw = COL_W[col], fy = ROW_Y[row];
  const cLeft = col === 0 ? 0 : 474;
  const cW = col === 0 ? fx + fw + 20 : 974 - cLeft;
  const padL = col === 0 ? 0 : fx - cLeft;
  const padR = col === 0 ? 20 : 0;
  const axisW = col === 0 ? fx : 974 - (fx + fw);
  const dec = fluxStep[i] < 1 ? 1 : 0;

  // main panel
  const cMain = addCanvas(cLeft, fy - 16, cW, MAIN_H + 32);
  new Chart(cMain, {
    type: 'line',
    data: { datasets: [
      lineSet(orangeSpectra[i], ORANGE, 1.5),
      lineSet(blueSpectra[i], BLUE, 2.1)
    ] },
    options: {
      responsive: false, animation: false, events: [], devicePixelRatio: 1,
      layout: { padding: { left: padL, right: padR, top: 16, bottom: 16 } },
      plugins: {
        legend: { display: false }, tooltip: { enabled: false },
        idlFrame: {
          major: fluxStep[i], minor: fluxMinor[i],
          titleX: col === 0 ? 27 : 967 - cLeft,
          names: [
            { text: blueNames[i], color: BLUE, dx: col === 0 ? 251 : 258, dy: 38 },
            { text: orangeNames[i], color: ORANGE, dx: col === 0 ? 299 : 308, dy: 74 }
          ]
        }
      },
      scales: {
        x: { type: 'linear', min: waveMin, max: waveMax, display: false },
        y: {
          type: 'linear', position: col === 0 ? 'left' : 'right',
          min: 0, max: fluxMax[i],
          afterFit: s => { s.width = axisW; },
          grid: { display: false, drawTicks: false }, border: { display: false },
          ticks: {
            stepSize: fluxStep[i], includeBounds: false, padding: col === 0 ? 7 : 6,
            color: INK, font: { family: AXIS_FONT, size: 18 },
            callback: v => v.toFixed(dec)
          }
        }
      }
    },
    plugins: [idlFrame]
  });

  // residual panel
  const bottomRow = row === 3;
  const xScale = { type: 'linear', min: waveMin, max: waveMax, display: false };
  if (bottomRow) {
    Object.assign(xScale, {
      display: true,
      afterFit: s => { s.height = X_AXIS_H; },
      afterBuildTicks: s => { s.ticks = waveTicks.map(v => ({ value: v })); },
      grid: { display: false, drawTicks: false }, border: { display: false },
      ticks: {
        padding: 5, maxRotation: 0, autoSkip: false,
        color: INK, font: { family: AXIS_FONT, size: 23 },
        callback: v => String(v)
      },
      title: {
        display: true, text: 'Wavelength (Ang)', color: INK,
        font: { family: AXIS_FONT, size: 23 }, padding: { top: 0, bottom: 0 }
      }
    });
  }
  const cRes = addCanvas(cLeft, fy + MAIN_H - 16, cW, RES_H + 16 + (bottomRow ? X_AXIS_H : 16));
  new Chart(cRes, {
    type: 'line',
    data: { datasets: [
      lineSet([[waveMin, 0], [waveMax, 0]], ORANGE, 1.2, [16, 6, 3, 6]),
      lineSet(residuals[i], BLUE, 1.6)
    ] },
    options: {
      responsive: false, animation: false, events: [], devicePixelRatio: 1,
      layout: { padding: { left: fx - cLeft, right: cLeft + cW - (fx + fw), top: 16, bottom: bottomRow ? 0 : 16 } },
      plugins: {
        legend: { display: false }, tooltip: { enabled: false },
        idlFrame: { major: 1, minor: 0.2 }
      },
      scales: {
        x: xScale,
        y: { type: 'linear', min: residMin[i], max: residMax[i], display: false }
      }
    },
    plugins: [idlFrame]
  });
}
</script>
</body>
</html>
